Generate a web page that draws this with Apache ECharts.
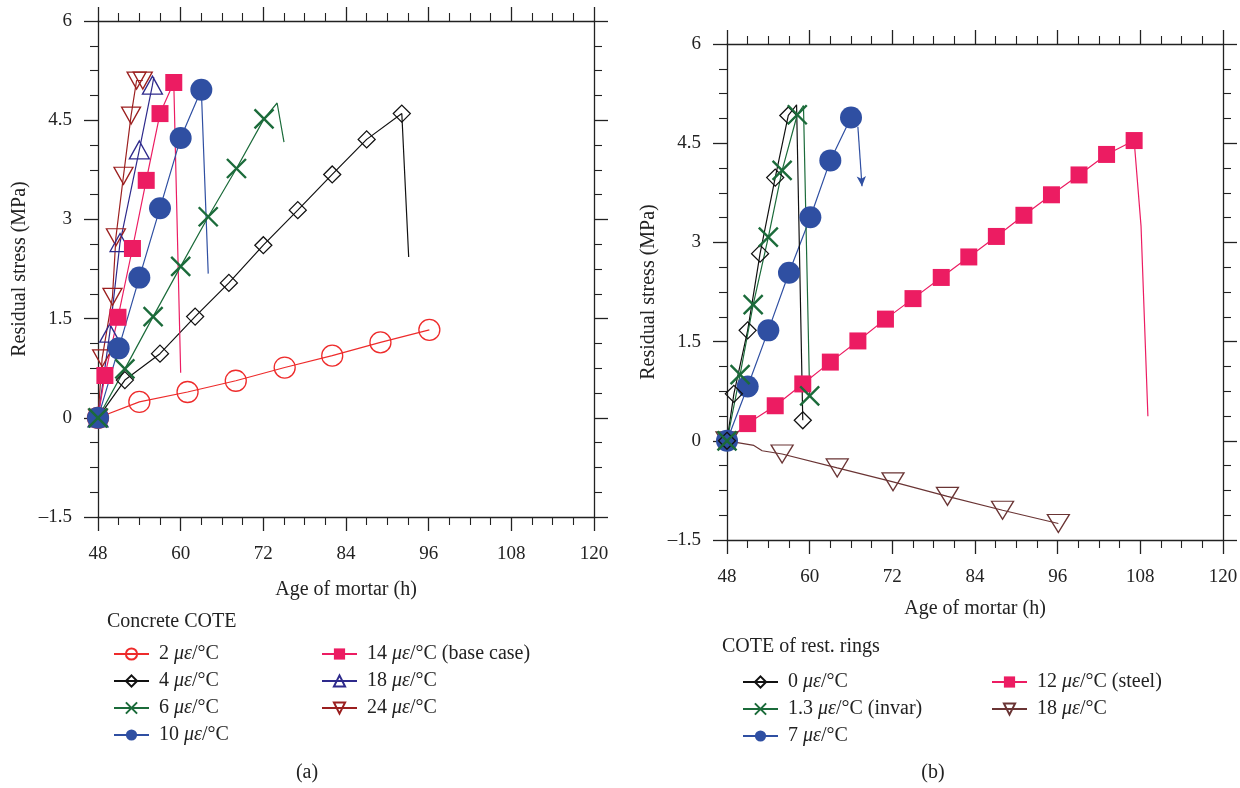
<!DOCTYPE html>
<html>
<head>
<meta charset="utf-8">
<script src="https://cdn.jsdelivr.net/npm/echarts@6/dist/echarts.min.js"></script>
<style>
  html, body { margin: 0; padding: 0; background: #fff; }
  #chart { width: 1240px; height: 788px; }
</style>
</head>
<body>
<div id="chart"></div>
<script>
// ---- data: [age (h), residual stress (MPa)] ----
// (a) concrete COTE
const a2 = [[48, 0], [54.0, 0.24], [61.0, 0.39], [68.0, 0.56], [75.1, 0.76], [82.0, 0.94], [89.0, 1.14], [96.1, 1.33]];
const a4 = [[48, 0], [51.9, 0.57], [57.0, 0.97], [62.1, 1.53], [67.0, 2.04], [72.0, 2.61], [77.0, 3.14], [82.0, 3.68], [87.0, 4.21], [92.1, 4.60]];
const a4End = [[93.1, 2.43]];
const a6 = [[48, 0], [51.9, 0.74], [56.0, 1.53], [60.0, 2.29], [64.0, 3.04], [68.1, 3.77], [72.1, 4.52]];
const a6End = [[74.0, 4.76], [75.0, 4.17]];
const a10 = [[48, 0], [51.0, 1.05], [54.0, 2.12], [57.0, 3.17], [60.0, 4.23], [63.0, 4.96]];
const a10End = [[64.0, 2.18]];
const a14 = [[48, 0], [49.0, 0.64], [50.9, 1.52], [53.0, 2.56], [55.0, 3.59], [57.0, 4.60], [59.0, 5.07]];
const a14End = [[60.0, 0.68]];
const a18 = [[48, 0], [49.7, 1.28], [51.2, 2.65], [54.0, 4.05], [55.9, 5.03]];
const a18End = [[56.1, 5.15]];
const a24 = [[48, 0], [48.6, 0.90], [50.1, 1.83], [50.6, 2.73], [51.7, 3.66], [52.8, 4.57], [53.6, 5.10], [54.5, 5.10]];

// (b) COTE of restraining rings
const b0 = [[48, 0], [49.0, 0.71], [51.0, 1.67], [52.8, 2.83], [55.0, 3.98], [56.9, 4.92]];
const b0Peak = [[58.1, 5.08]];
const b0Drop = [[59.0, 0.31]];
const b13 = [[48, 0], [49.9, 1.00], [51.8, 2.06], [54.0, 3.08], [56.0, 4.09], [58.2, 4.93]];
const b13Peak = [[59.1, 5.07]];
const b13Drop = [[60.0, 0.68]];
const b7 = [[48, 0], [51.0, 0.82], [54.0, 1.67], [57.0, 2.54], [60.1, 3.38], [63.0, 4.24], [66.0, 4.89]];
const b7Arrow = [[67.0, 4.75], [67.6, 3.85]];
const b12 = [[48, 0], [51.0, 0.26], [55.0, 0.53], [59.0, 0.86], [63.0, 1.19], [67.0, 1.51], [71.0, 1.84], [75.0, 2.15],
  [79.1, 2.47], [83.1, 2.78], [87.1, 3.09], [91.1, 3.41], [95.1, 3.72], [99.1, 4.02], [103.1, 4.33], [107.1, 4.54]];
const b12End = [[108.1, 3.25], [109.1, 0.37]];
const b18Start = [[48, 0]];
const b18Kink = [[51.9, -0.07], [53.1, -0.15]];
const b18 = [[56.0, -0.20], [64.0, -0.41], [72.1, -0.62], [80.0, -0.84], [88.0, -1.05], [96.1, -1.25]];

const xTicks = { min: 48, max: 120, step: 12 };
const yTicks = { min: -1.5, max: 6, step: 1.5 };

// legend texts: [number, suffix]
const labels = {
  a2: ['2', ''], a4: ['4', ''], a6: ['6', ''], a10: ['10', ''],
  a14: ['14', ' (base case)'], a18: ['18', ''], a24: ['24', ''],
  b0: ['0', ''], b13: ['1.3', ' (invar)'], b7: ['7', ''], b12: ['12', ' (steel)'], b18: ['18', '']
};

const FONT = '"Liberation Serif", "DejaVu Serif", serif';
const INK = '#222';
const TXT = 20;
const X_PATH = 'path://M0,0L10,10M10,0L0,10';

const mark = arr => arr.map(p => ({ value: p }));
const bare = arr => arr.map(p => ({ value: p, symbol: 'none' }));

function xAx(grid, pos, gap) {
  return {
    type: 'value', gridIndex: grid, position: pos,
    min: xTicks.min, max: xTicks.max, interval: xTicks.step,
    name: pos === 'bottom' ? 'Age of mortar (h)' : '',
    nameLocation: 'middle', nameGap: gap || 60,
    nameTextStyle: { fontFamily: FONT, fontSize: TXT, color: INK },
    axisLine: { show: true, onZero: false, lineStyle: { color: INK, width: 1.3 } },
    axisTick: { show: true, inside: false, length: 14, lineStyle: { color: INK, width: 1.3 } },
    minorTick: { show: true, splitNumber: 4, length: 8, lineStyle: { color: INK, width: 1.1 } },
    splitLine: { show: false },
    axisLabel: { show: pos === 'bottom', margin: 28, fontFamily: FONT, fontSize: 19, color: INK }
  };
}

function yAx(grid, pos) {
  return {
    type: 'value', gridIndex: grid, position: pos,
    min: yTicks.min, max: yTicks.max, interval: yTicks.step,
    name: pos === 'left' ? 'Residual stress (MPa)' : '',
    nameLocation: 'middle', nameGap: 68,
    nameTextStyle: { fontFamily: FONT, fontSize: TXT, color: INK },
    axisLine: { show: true, onZero: false, lineStyle: { color: INK, width: 1.3 } },
    axisTick: { show: true, inside: false, length: 14, lineStyle: { color: INK, width: 1.3 } },
    minorTick: { show: true, splitNumber: 4, length: 8, lineStyle: { color: INK, width: 1.1 } },
    splitLine: { show: false },
    axisLabel: {
      show: pos === 'left', margin: 26, fontFamily: FONT, fontSize: 19, color: INK,
      formatter: v => (v < 0 ? '\u2013' + Math.abs(v) : String(v))
    }
  };
}

function line(name, grid, data, color, symbol, size, filled, extra) {
  return Object.assign({
    name, type: 'line', xAxisIndex: grid * 2, yAxisIndex: grid * 2,
    data, symbol, symbolSize: size, showAllSymbol: true, animation: false,
    lineStyle: { color, width: 1.2 },
    itemStyle: filled
      ? { color, borderWidth: 0 }
      : { color: 'rgba(0,0,0,0)', borderColor: color, borderWidth: 1.3 },
    emphasis: { disabled: true }
  }, extra || {});
}

function legendCol(left, top, names) {
  return {
    left, top, orient: 'vertical', itemGap: 7, itemWidth: 35, itemHeight: 14,
    data: names, selectedMode: false,
    textStyle: {
      fontFamily: FONT, fontSize: TXT, color: INK, padding: [0, 0, 0, 5],
      rich: { i: { fontFamily: FONT, fontSize: TXT, fontStyle: 'italic', color: INK } }
    },
    formatter: n => labels[n][0] + ' {i|\u03bc\u03b5}/\u00b0C' + labels[n][1]
  };
}

function text(x, y, s, align) {
  return {
    type: 'text', x, y,
    style: { text: s, font: TXT + 'px ' + FONT, fill: INK, align: align, verticalAlign: 'middle' }
  };
}

const chart = echarts.init(document.getElementById('chart'));
chart.setOption({
  backgroundColor: '#fff',
  animation: false,
  grid: [
    { left: 98, top: 21, width: 496, height: 496, outerBoundsMode: 'none' },
    { left: 727, top: 44, width: 496, height: 496, outerBoundsMode: 'none' }
  ],
  xAxis: [xAx(0, 'bottom', 63), xAx(0, 'top'), xAx(1, 'bottom', 59), xAx(1, 'top')],
  yAxis: [yAx(0, 'left'), yAx(0, 'right'), yAx(1, 'left'), yAx(1, 'right')],
  legend: [
    legendCol(108, 639, ['a2', 'a4', 'a6', 'a10']),
    legendCol(316, 639, ['a14', 'a18', 'a24']),
    legendCol(737, 667, ['b0', 'b13', 'b7']),
    legendCol(986, 667, ['b12', 'b18'])
  ],
  graphic: [
    text(107, 622, 'Concrete COTE', 'left'),
    text(722, 647, 'COTE of rest. rings', 'left'),
    text(307, 773, '(a)', 'center'),
    text(933, 773, '(b)', 'center')
  ],
  series: [
    line('a2', 0, mark(a2), '#ee2b2b', 'circle', 21, false),
    line('a4', 0, mark(a4).concat(bare(a4End)), '#111111', 'diamond', 17, false),
    line('a24', 0, mark(a24), '#9b1f1f', 'triangle', [19, 17], false, { symbolRotate: 180 }),
    line('a18', 0, mark(a18).concat(bare(a18End)), '#2e2a8c', 'triangle', [20, 18], false),
    line('a14', 0, mark(a14).concat(bare(a14End)), '#ec1c62', 'rect', 17, true),
    line('a10', 0, mark(a10).concat(bare(a10End)), '#2f4fa2', 'circle', 22, true),
    line('a6', 0, mark(a6).concat(bare(a6End)), '#1b6b3a', X_PATH, 19, false,
      { itemStyle: { color: 'rgba(0,0,0,0)', borderColor: '#1b6b3a', borderWidth: 2.4 } }),

    line('b12', 1, mark(b12).concat(bare(b12End)), '#ec1c62', 'rect', 17, true),
    line('b18', 1, mark(b18Start).concat(bare(b18Kink), mark(b18)), '#6a3434', 'triangle', [22, 18], false,
      { symbolRotate: 180 }),
    line('b7', 1, mark(b7), '#2f4fa2', 'circle', 22, true, {
      markLine: {
        silent: true, symbol: ['none', 'arrow'], symbolSize: [7, 10],
        label: { show: false },
        lineStyle: { color: '#2f4fa2', width: 1.2, type: 'solid' },
        data: [[{ coord: b7Arrow[0] }, { coord: b7Arrow[1] }]]
      }
    }),
    line('b0', 1, mark(b0).concat(bare(b0Peak), mark(b0Drop)), '#111111', 'diamond', 17, false),
    line('b13', 1, mark(b13).concat(bare(b13Peak), mark(b13Drop)), '#1b6b3a', X_PATH, 19, false,
      { itemStyle: { color: 'rgba(0,0,0,0)', borderColor: '#1b6b3a', borderWidth: 2.4 } })
  ]
});
</script>
</body>
</html>
